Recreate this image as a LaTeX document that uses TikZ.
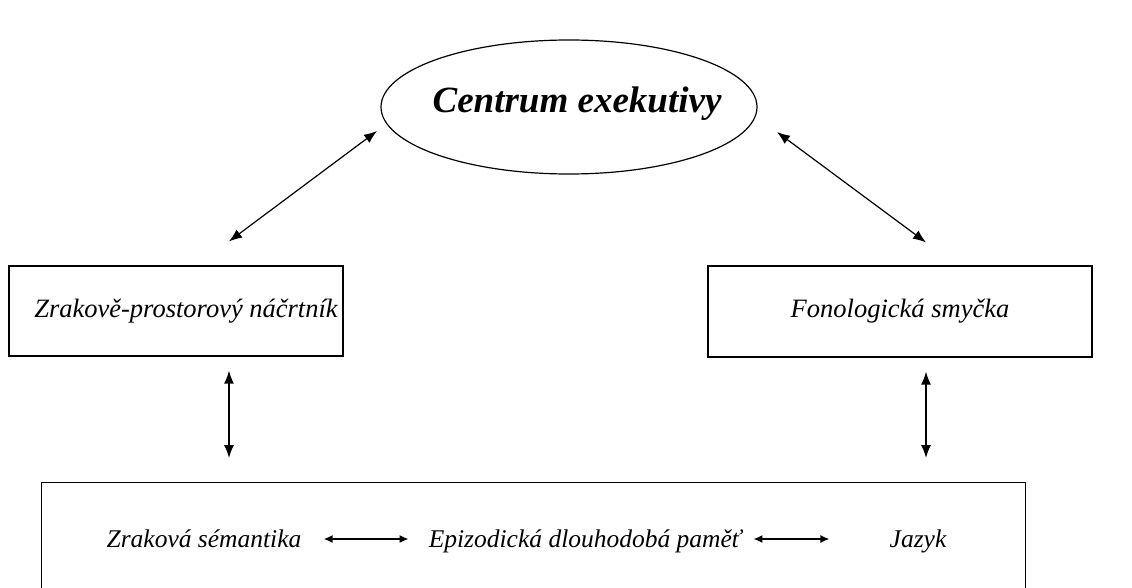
\documentclass[tikz,border=0pt]{standalone}
\usepackage{fontspec}
\setmainfont{Liberation Serif}
\usetikzlibrary{shapes.geometric,arrows.meta,calc}
\begin{document}
\begin{tikzpicture}[x=1pt,y=-1pt,
  outline/.style={draw, line width=1.2pt, inner sep=0pt},
  boxnode/.style={outline, font=\fontsize{26.5}{31}\selectfont\itshape},
  dbl/.style={{Latex[length=13pt,width=10pt]}-{Latex[length=13pt,width=10pt]}, line width=1.2pt},
  dblsmall/.style={{Latex[length=9pt,width=8pt]}-{Latex[length=9pt,width=8pt]}, line width=1.7pt},
  lowtext/.style={font=\fontsize{25.5}{30}\selectfont\itshape, inner sep=0pt, anchor=base}]
\useasboundingbox (0,0) rectangle (1132,588);
\clip (0,0) rectangle (1132,588);
% nodes
\node[outline, ellipse, minimum width=376pt, minimum height=134pt] (ce) at (569,107) {};
\node[inner sep=0pt, anchor=base, font=\fontsize{37}{42}\selectfont\bfseries\itshape] (cet) at (577,113) {Centrum exekutivy};
\node[boxnode, minimum width=334pt, minimum height=90pt] (zp) at (176,311) {\hspace*{20pt}Zrakově-prostorový náčrtník};
\node[boxnode, minimum width=384pt, minimum height=91pt] (fs) at (900,311.5) {Fonologická smyčka};
\node[outline, minimum width=984pt, minimum height=160pt, anchor=north west] (dp) at (41,482) {};
\node[lowtext] (zs) at (204,547) {Zraková sémantika};
\node[lowtext] (ep) at (585,547) {Epizodická dlouhodobá paměť};
\node[lowtext] (ja) at (918,547) {Jazyk};
% coordinates for free arrow ends
\coordinate (e1) at ($(ce.center)+(-192,24)$);
\coordinate (e2) at ($(ce.center)+(208,25)$);
\coordinate (z1) at ([xshift=53pt,yshift=24pt]zp.north);
\coordinate (f1) at ([xshift=26pt,yshift=23pt]fs.north);
\coordinate (zb) at ([xshift=53pt,yshift=-14pt]zp.south);
\coordinate (fb) at ([xshift=26pt,yshift=-14pt]fs.south);
\coordinate (dz) at (zb |- dp.north);
\coordinate (df) at (fb |- dp.north);
% connectors
\draw[dbl] (e1) -- (z1);
\draw[dbl] (e2) -- (f1);
\draw[dbl, line width=1.4pt] (zb) -- ([yshift=24pt]dz);
\draw[dbl, line width=1.4pt] (fb) -- ([yshift=24pt]df);
\draw[dblsmall] ([xshift=22pt,yshift=8pt]zs.base east) -- ([xshift=-20pt,yshift=8pt]ep.base west);
\draw[dblsmall] ([xshift=12pt,yshift=8pt]ep.base east) -- ([xshift=-60pt,yshift=8pt]ja.base west);
\end{tikzpicture}
\end{document}
